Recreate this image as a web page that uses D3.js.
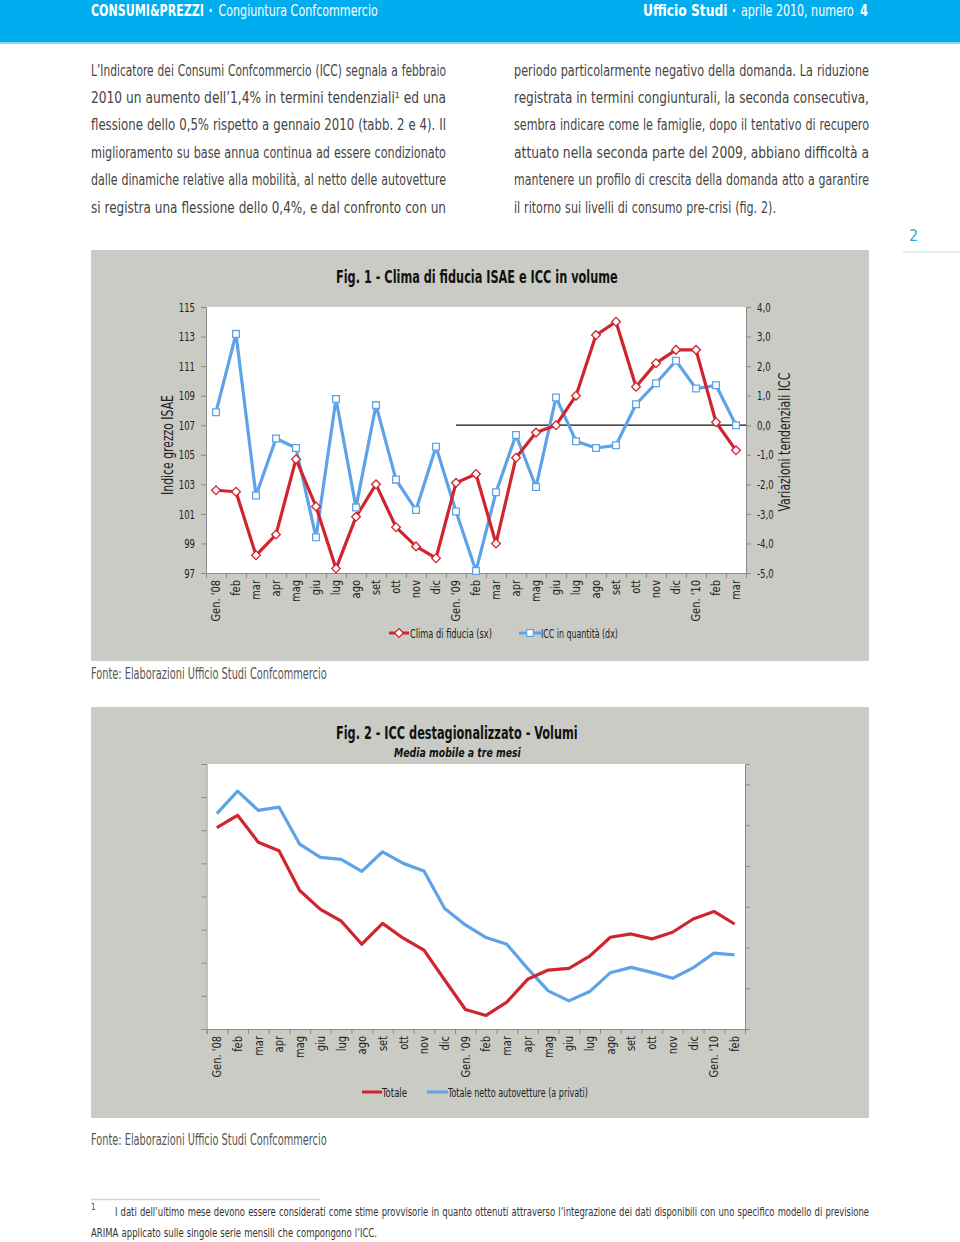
<!DOCTYPE html>
<html><head><meta charset="utf-8">
<script src="https://cdn.jsdelivr.net/npm/d3@7"></script>
<style>
html,body{margin:0;padding:0;background:#fff;}
svg{display:block;}
text{font-family:"Liberation Sans Narrow","DejaVu Sans Condensed","Arial Narrow","Liberation Sans",sans-serif;font-stretch:condensed;}
</style></head><body>
<svg id="c" width="960" height="1242"></svg>
<script>
// ---------------- DATA ----------------
const fig1Months = ["Gen. '08","feb","mar","apr","mag","giu","lug","ago","set","ott","nov","dic",
  "Gen. '09","feb","mar","apr","mag","giu","lug","ago","set","ott","nov","dic","Gen. '10","feb","mar"];
const fig1Clima = [102.6,102.5,98.2,99.6,104.7,101.5,97.3,100.8,103.0,100.1,98.8,98.0,
  103.1,103.7,99.0,104.8,106.5,107.0,109.0,113.1,114.0,109.6,111.2,112.1,112.1,107.2,105.3];
const fig1ICC = [0.44,3.09,-2.38,-0.45,-0.77,-3.79,0.89,-2.78,0.68,-1.84,-2.87,-0.73,
  -2.92,-4.93,-2.27,-0.33,-2.09,0.94,-0.54,-0.77,-0.68,0.71,1.42,2.18,1.24,1.35,0.0];
const fig1LeftTicks = [97,99,101,103,105,107,109,111,113,115];
const fig1RightTicks = [-5,-4,-3,-2,-1,0,1,2,3,4];

const fig2Months = ["Gen. '08","feb","mar","apr","mag","giu","lug","ago","set","ott","nov","dic",
  "Gen. '09","feb","mar","apr","mag","giu","lug","ago","set","ott","nov","dic","Gen. '10","feb"];
const fig2Totale = [6.08,6.45,5.64,5.38,4.18,3.61,3.26,2.56,3.19,2.74,2.38,1.48,
  0.59,0.41,0.81,1.50,1.78,1.83,2.20,2.77,2.87,2.72,2.92,3.32,3.55,3.17];
const fig2Netto = [6.50,7.18,6.60,6.70,5.58,5.18,5.12,4.76,5.35,5.00,4.77,3.64,
  3.14,2.76,2.56,1.83,1.15,0.85,1.13,1.70,1.86,1.71,1.53,1.85,2.29,2.24];
const fig2LeftTicks = [0,1,2,3,4,5,6,7,8];
const fig2RightTicks = [0,1,2,3,4,5,6];

const textLeft = [
 "L’Indicatore dei Consumi Confcommercio (ICC) segnala a febbraio",
 "2010 un aumento dell’1,4% in termini tendenziali¹ ed una",
 "flessione dello 0,5% rispetto a gennaio 2010 (tabb. 2 e 4).  Il",
 "miglioramento su base annua continua ad essere condizionato",
 "dalle dinamiche relative alla mobilità, al netto delle autovetture",
 "si registra una flessione dello 0,4%, e dal confronto con un"];
const textRight = [
 "periodo particolarmente negativo della domanda. La riduzione",
 "registrata in termini congiunturali, la seconda consecutiva,",
 "sembra indicare come le famiglie, dopo il tentativo di recupero",
 "attuato nella seconda parte del 2009, abbiano difficoltà a",
 "mantenere un profilo di crescita della domanda atto a garantire",
 "il ritorno sui livelli di consumo pre-crisi (fig. 2)."];
const footLine1 = "I dati dell’ultimo mese devono essere considerati come stime provvisorie in quanto ottenuti attraverso l’integrazione dei dati disponibili con uno specifico modello di previsione";
const footLine2 = "ARIMA applicato sulle singole serie mensili che compongono l’ICC.";

// ---------------- DRAW ----------------
const RED = "#D0252F", BLUE = "#5EA3E8", PANEL = "#CBCBC5", AX = "#8a8a8a";
const FONT = '"Liberation Sans Narrow","DejaVu Sans Condensed","Arial Narrow",sans-serif';
const svg = d3.select("#c");

// text scaled horizontally so that its (transformed) box has width w
function fit(x, y, s, o = {}) {
  const t = svg.append("text").text(s)
    .attr("font-size", o.size || 13).attr("fill", o.fill || "#222");
  if (o.weight) t.attr("font-weight", o.weight);
  if (o.style) t.attr("font-style", o.style);
  if (o.anchor) t.attr("text-anchor", o.anchor);
  if (o.baseline) t.attr("dominant-baseline", o.baseline);
  const L = t.node().getComputedTextLength();
  const k = o.w ? o.w / L : (o.k || 1);
  t.attr("transform", `translate(${x},${y})${o.rot ? ` rotate(${o.rot})` : ""} scale(${k},1)`);
  return t;
}
function justify(x, y, w, s, size, fill, natural) {
  const words = s.split(/ +/);
  const nodes = words.map(wd => svg.append("text").text(wd).attr("font-size", size).attr("fill", fill));
  const widths = nodes.map(n => n.node().getComputedTextLength());
  const sum = d3.sum(widths);
  let gap = (w - sum) / (words.length - 1), k = 1;
  const minGap = size * 0.26;
  if (gap < minGap || natural) { gap = minGap; k = (w - gap * (words.length - 1)) / sum; }
  let cx = x;
  nodes.forEach((n, i) => {
    n.attr("transform", `translate(${cx},${y}) scale(${k},1)`);
    cx += widths[i] * k + gap;
  });
}

// header
svg.append("rect").attr("x", 0).attr("y", 0).attr("width", 960).attr("height", 43).attr("fill", "#00AEEF");
svg.append("rect").attr("x", 0).attr("y", 42).attr("width", 960).attr("height", 2).attr("fill", "#8ed7f4");
fit(91, 16, "CONSUMI&PREZZI", {size: 16, fill: "#fff", weight: "bold", w: 113});
fit(208.5, 16, "·", {size: 16, fill: "#fff", weight: "bold", w: 4});
fit(218.5, 16, "Congiuntura Confcommercio", {size: 16, fill: "#fff", w: 159.5});
fit(643, 16, "Ufficio Studi", {size: 16, fill: "#fff", weight: "bold", w: 84.5});
fit(732, 16, "·", {size: 16, fill: "#fff", weight: "bold", w: 4});
fit(741, 16, "aprile 2010, numero", {size: 16, fill: "#fff", w: 113});
fit(860, 16, "4", {size: 16, fill: "#fff", weight: "bold", w: 8});

// body text
const lineYs = [76, 103, 130, 158, 185, 213];
textLeft.forEach((s, i) => justify(91, lineYs[i], 355, s, 15, "#444"));
textRight.forEach((s, i) => justify(514, lineYs[i], i === 5 ? 262 : 355, s, 15, "#444", i === 5));

// page number
fit(909, 241, "2", {size: 16, fill: "#29ABE2"});
svg.append("line").attr("x1", 903).attr("x2", 960).attr("y1", 252).attr("y2", 252).attr("stroke", "#d5e6ee").attr("stroke-width", 1.5);

// ================= FIG 1 =================
svg.append("rect").attr("x", 91).attr("y", 250).attr("width", 778).attr("height", 411).attr("fill", PANEL);
fit(336, 283, "Fig. 1 - Clima di fiducia ISAE e ICC in volume", {size: 17, fill: "#111", weight: "bold", w: 282});
const f1 = {L: 206, R: 746, T: 307, B: 573};
svg.append("rect").attr("x", f1.L).attr("y", f1.T).attr("width", f1.R - f1.L).attr("height", f1.B - f1.T).attr("fill", "#fff");
const x1 = d3.scaleBand().domain(d3.range(fig1Months.length)).range([f1.L, f1.R]);
const x1b = d3.scaleLinear().domain([0, fig1Months.length]).range([f1.L, f1.R]);
const yL = d3.scaleLinear().domain([97, 115]).range([f1.B, f1.T]);
const yR = d3.scaleLinear().domain([-5, 4]).range([f1.B, f1.T]);
const fmtR = v => (v < 0 ? "-" : "") + Math.abs(v).toFixed(1).replace(".", ",");
const TK = 0.73;

function styleAxis(g, size, side) {
  g.attr("font-family", null);
  g.selectAll(".domain").attr("stroke", AX);
  g.selectAll(".tick line").attr("stroke", AX);
  const tt = g.selectAll(".tick text").attr("fill", "#222").attr("font-size", size).style("font-family", FONT);
  if (side) tt.attr("x", side * 11 / TK).attr("transform", `scale(${TK},1)`);
}
styleAxis(svg.append("g").attr("transform", `translate(${f1.L},0)`)
  .call(d3.axisLeft(yL).tickValues(fig1LeftTicks).tickSize(5).tickFormat(d3.format("d"))), 13, -1);
styleAxis(svg.append("g").attr("transform", `translate(${f1.R},0)`)
  .call(d3.axisRight(yR).tickValues(fig1RightTicks).tickSize(5).tickFormat(fmtR)), 13, 1);
styleAxis(svg.append("g").attr("transform", `translate(0,${f1.B})`)
  .call(d3.axisBottom(x1b).tickValues(d3.range(fig1Months.length + 1)).tickSize(5).tickFormat("")), 12, 0);
svg.append("g").selectAll("text").data(fig1Months).join("text")
  .attr("transform", (d, i) => `translate(${x1(i) + x1.bandwidth() / 2},580) rotate(-90) scale(0.88,1)`)
  .attr("text-anchor", "end").attr("dy", "0.35em").attr("font-size", 12.5).attr("fill", "#222").text(d => d);

// zero line of secondary axis
svg.append("line").attr("x1", x1(12) + x1.bandwidth() / 2).attr("x2", f1.R)
  .attr("y1", yR(0)).attr("y2", yR(0)).attr("stroke", "#111").attr("stroke-width", 1.2);

const cx1 = i => x1(i) + x1.bandwidth() / 2;
svg.append("path").datum(fig1ICC).attr("fill", "none").attr("stroke", BLUE).attr("stroke-width", 3.2)
  .attr("stroke-linejoin", "round").attr("d", d3.line().x((d, i) => cx1(i)).y(d => yR(d)));
svg.append("path").datum(fig1Clima).attr("fill", "none").attr("stroke", RED).attr("stroke-width", 3.2)
  .attr("stroke-linejoin", "round").attr("d", d3.line().x((d, i) => cx1(i)).y(d => yL(d)));
const sq = d3.symbol().type(d3.symbolSquare).size(46);
const dm = d3.symbol().type(d3.symbolSquare).size(38);
svg.append("g").selectAll("path").data(fig1ICC).join("path")
  .attr("d", sq).attr("transform", (d, i) => `translate(${cx1(i)},${yR(d)})`)
  .attr("fill", "#fff").attr("stroke", BLUE).attr("stroke-width", 1.3);
svg.append("g").selectAll("path").data(fig1Clima).join("path")
  .attr("d", dm).attr("transform", (d, i) => `translate(${cx1(i)},${yL(d)}) rotate(45)`)
  .attr("fill", "#fff").attr("stroke", RED).attr("stroke-width", 1.3);

// axis titles
fit(167, 445, "Indice grezzo ISAE", {size: 16, fill: "#222", anchor: "middle", baseline: "central", rot: -90, w: 100});
fit(784, 442, "Variazioni tendenziali ICC", {size: 16, fill: "#222", anchor: "middle", baseline: "central", rot: -90, w: 139});

// legend fig1
svg.append("line").attr("x1", 389).attr("x2", 409).attr("y1", 633).attr("y2", 633).attr("stroke", RED).attr("stroke-width", 3);
svg.append("path").attr("d", dm).attr("transform", "translate(399,633) rotate(45)").attr("fill", "#fff").attr("stroke", RED).attr("stroke-width", 1.3);
fit(410, 637.5, "Clima di fiducia (sx)", {size: 12.5, fill: "#222", w: 82});
svg.append("line").attr("x1", 519).attr("x2", 541).attr("y1", 633).attr("y2", 633).attr("stroke", BLUE).attr("stroke-width", 3);
svg.append("path").attr("d", sq).attr("transform", "translate(530,633)").attr("fill", "#fff").attr("stroke", BLUE).attr("stroke-width", 1.3);
fit(541, 637.5, "ICC in quantità (dx)", {size: 12.5, fill: "#222", w: 77});

fit(91, 679, "Fonte: Elaborazioni Ufficio Studi Confcommercio", {size: 15, fill: "#555", w: 236});

// ================= FIG 2 =================
svg.append("rect").attr("x", 91).attr("y", 707).attr("width", 778).attr("height", 411).attr("fill", PANEL);
fit(336, 739, "Fig. 2 - ICC destagionalizzato - Volumi", {size: 17, fill: "#111", weight: "bold", w: 242});
fit(394, 757, "Media mobile a tre mesi", {size: 13, fill: "#111", weight: "bold", style: "italic", w: 127});
const f2 = {L: 206.5, R: 745, T: 764, B: 1029};
svg.append("rect").attr("x", f2.L).attr("y", f2.T).attr("width", f2.R - f2.L).attr("height", f2.B - f2.T).attr("fill", "#fff");
const x2 = d3.scaleBand().domain(d3.range(fig2Months.length)).range([f2.L, f2.R]);
const x2b = d3.scaleLinear().domain([0, fig2Months.length]).range([f2.L, f2.R]);
const y2 = d3.scaleLinear().domain([0, 8]).range([f2.B, f2.T]);
const y2r = d3.scaleLinear().domain([0, 6.5]).range([f2.B, f2.T]);
styleAxis(svg.append("g").attr("transform", `translate(${f2.L},0)`)
  .call(d3.axisLeft(y2).tickValues(fig2LeftTicks).tickSize(5).tickFormat("")), 12, 0);
styleAxis(svg.append("g").attr("transform", `translate(${f2.R},0)`)
  .call(d3.axisRight(y2r).tickValues(fig2RightTicks).tickSize(5).tickFormat("")), 12, 0);
styleAxis(svg.append("g").attr("transform", `translate(0,${f2.B})`)
  .call(d3.axisBottom(x2b).tickValues(d3.range(fig2Months.length + 1)).tickSize(5).tickFormat("")), 12, 0);
svg.append("g").selectAll("text").data(fig2Months).join("text")
  .attr("transform", (d, i) => `translate(${x2(i) + x2.bandwidth() / 2},1036) rotate(-90) scale(0.88,1)`)
  .attr("text-anchor", "end").attr("dy", "0.35em").attr("font-size", 12.5).attr("fill", "#222").text(d => d);
const cx2 = i => x2(i) + x2.bandwidth() / 2;
svg.append("path").datum(fig2Netto).attr("fill", "none").attr("stroke", BLUE).attr("stroke-width", 3.2)
  .attr("stroke-linejoin", "round").attr("d", d3.line().x((d, i) => cx2(i)).y(d => y2(d)));
svg.append("path").datum(fig2Totale).attr("fill", "none").attr("stroke", RED).attr("stroke-width", 3.2)
  .attr("stroke-linejoin", "round").attr("d", d3.line().x((d, i) => cx2(i)).y(d => y2(d)));

svg.append("line").attr("x1", 362).attr("x2", 382).attr("y1", 1092).attr("y2", 1092).attr("stroke", RED).attr("stroke-width", 3);
fit(382, 1096.5, "Totale", {size: 12.5, fill: "#222", w: 25});
svg.append("line").attr("x1", 427).attr("x2", 448).attr("y1", 1092).attr("y2", 1092).attr("stroke", BLUE).attr("stroke-width", 3);
fit(448, 1096.5, "Totale netto autovetture (a privati)", {size: 12.5, fill: "#222", w: 140});

fit(91, 1145, "Fonte: Elaborazioni Ufficio Studi Confcommercio", {size: 15, fill: "#555", w: 236});

// footnote
svg.append("line").attr("x1", 91).attr("x2", 320).attr("y1", 1199.5).attr("y2", 1199.5).attr("stroke", "#cfd8dc").attr("stroke-width", 1.5);
fit(91, 1210, "1", {size: 8, fill: "#444"});
justify(115, 1216, 754, footLine1, 12, "#333");
justify(91, 1237, 286, footLine2, 12, "#333", true);
</script>
</body></html>
